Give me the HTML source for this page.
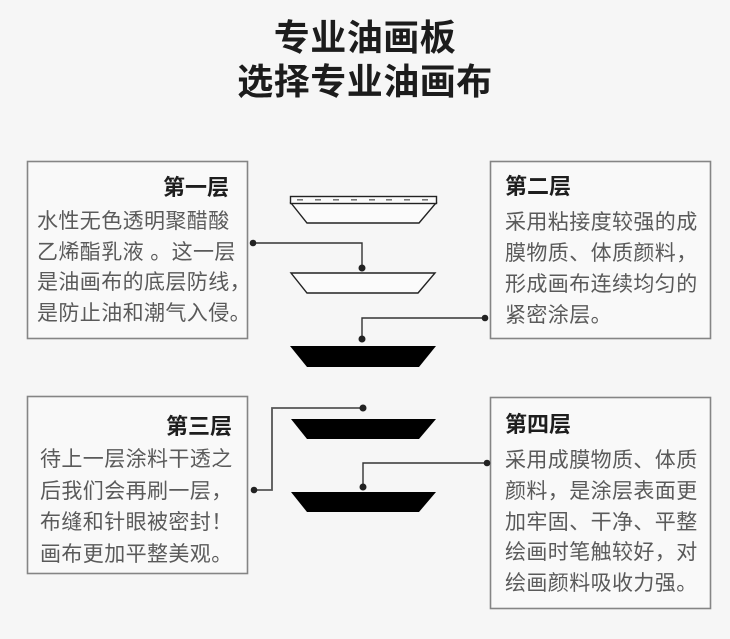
<!DOCTYPE html>
<html>
<head>
<meta charset="utf-8">
<style>
  html,body{margin:0;padding:0;}
  body{width:730px;height:639px;background:#f6f6f6;position:relative;overflow:hidden;
       font-family:"Liberation Sans","Noto Sans CJK SC",sans-serif;}
  svg{position:absolute;left:0;top:0;}
  .h{position:absolute;left:0;width:730px;text-align:center;font-weight:bold;color:#1c1c1c;
     font-size:36px;line-height:44px;letter-spacing:0.5px;}
  .t{position:absolute;font-weight:bold;color:#1e1e1e;font-size:22px;line-height:31px;white-space:nowrap;}
  .b{position:absolute;color:#5a5a5a;font-size:21px;letter-spacing:0.4px;white-space:nowrap;}
</style>
</head>
<body>
<div class="h" style="top:16px;">专业油画板</div>
<div class="h" style="top:60px;">选择专业油画布</div>

<svg width="730" height="639" viewBox="0 0 730 639">
  <rect x="27.5" y="161.5" width="220" height="177" fill="#f9f9f9" stroke="#858585" stroke-width="1.6"/>
  <rect x="490.5" y="161.5" width="220" height="177" fill="#f9f9f9" stroke="#858585" stroke-width="1.6"/>
  <rect x="27.5" y="396.5" width="220" height="177" fill="#f9f9f9" stroke="#858585" stroke-width="1.6"/>
  <rect x="490.5" y="397.5" width="220" height="211" fill="#f9f9f9" stroke="#858585" stroke-width="1.6"/>

  <polygon points="291,203 436,203 419,223 307,223" fill="#fbfbfb" stroke="#222" stroke-width="1.4"/>
  <rect x="290.5" y="196.5" width="146" height="7" fill="#fbfbfb" stroke="#222" stroke-width="1.4"/>
  <g fill="#777">
    <rect x="297" y="199" width="6" height="1.6"/>
    <rect x="315" y="199" width="6" height="1.6"/>
    <rect x="333" y="199" width="6" height="1.6"/>
    <rect x="351" y="199" width="6" height="1.6"/>
    <rect x="369" y="199" width="6" height="1.6"/>
    <rect x="386" y="199" width="6" height="1.6"/>
    <rect x="404" y="199" width="6" height="1.6"/>
    <rect x="422" y="199" width="6" height="1.6"/>
  </g>
  <polygon points="291,273 435,273 418,293 307,293" fill="#fbfbfb" stroke="#222" stroke-width="1.4"/>
  <polygon points="290,346 436,346 419,367 307,367" fill="#000"/>
  <polygon points="291,419 436,419 419,439 307,439" fill="#000"/>
  <polygon points="291,492 436,492 419,512 307,512" fill="#000"/>

  <g fill="none" stroke="#333" stroke-width="1.4">
    <polyline points="253,243 362,243 362,268"/>
    <polyline points="485,318 362,318 362,339"/>
    <polyline points="254,490 272,490 272,408 363,408" stroke="#555" stroke-width="1.8"/>
    <polyline points="487,463 363,463 363,487"/>
  </g>
  <g fill="#222">
    <circle cx="253" cy="243" r="3.3"/>
    <circle cx="362" cy="268" r="3.5"/>
    <circle cx="485" cy="318" r="3.3"/>
    <circle cx="362" cy="339" r="3.5"/>
    <circle cx="254" cy="490" r="3.3"/>
    <circle cx="363" cy="408" r="3.5"/>
    <circle cx="487" cy="463" r="3.3"/>
    <circle cx="363" cy="487" r="3.5"/>
  </g>
</svg>

<div class="t" style="top:172px;left:100px;width:129px;text-align:right;">第一层</div>
<div class="b" style="top:207px;left:37px;line-height:30.7px;">水性无色透明聚醋酸<br>乙烯酯乳液 。这一层<br>是油画布的底层防线，<br>是防止油和潮气入侵。</div>

<div class="t" style="top:171px;left:505px;">第二层</div>
<div class="b" style="top:207px;left:505px;line-height:31px;">采用粘接度较强的成<br>膜物质、体质颜料，<br>形成画布连续均匀的<br>紧密涂层。</div>

<div class="t" style="top:411px;left:100px;width:132px;text-align:right;">第三层</div>
<div class="b" style="top:444px;left:40px;line-height:31.5px;">待上一层涂料干透之<br>后我们会再刷一层，<br>布缝和针眼被密封！<br>画布更加平整美观。</div>

<div class="t" style="top:409px;left:505px;">第四层</div>
<div class="b" style="top:446px;left:505px;line-height:30.8px;">采用成膜物质、体质<br>颜料，是涂层表面更<br>加牢固、干净、平整<br>绘画时笔触较好，对<br>绘画颜料吸收力强。</div>
</body>
</html>
